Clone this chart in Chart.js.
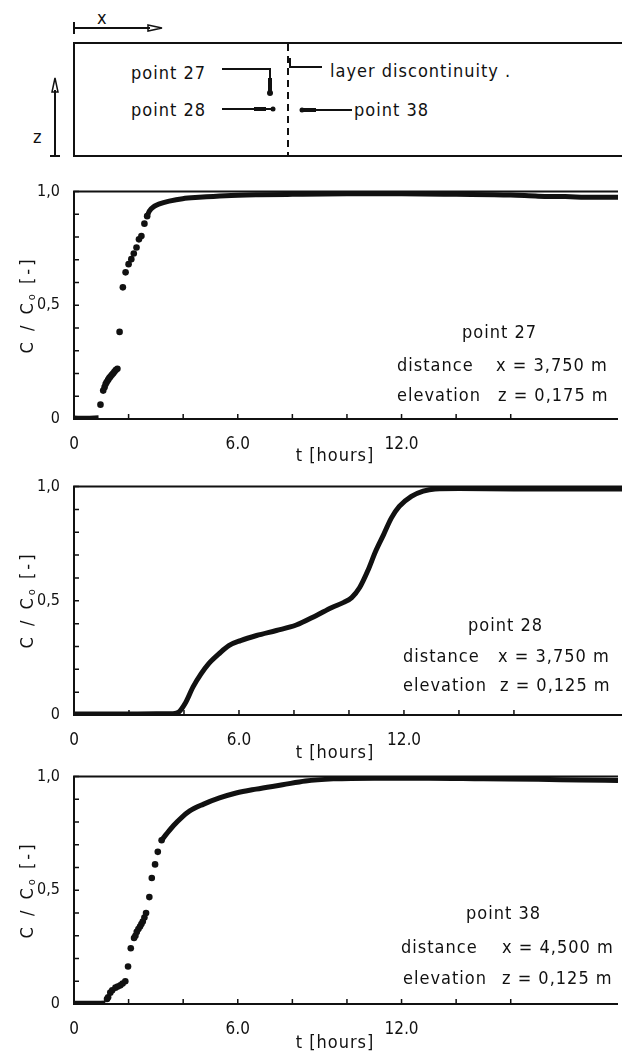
<!DOCTYPE html>
<html>
<head>
<meta charset="utf-8">
<script src="https://cdn.jsdelivr.net/npm/chart.js@4.4.1/dist/chart.umd.min.js"></script>
<style>
  html, body { margin:0; padding:0; background:#fff; }
  body { width:622px; height:1051px; position:relative; overflow:hidden;
         font-family:'DejaVu Sans Condensed','Liberation Sans Narrow','DejaVu Sans',sans-serif; color:#111; }
  .pane { position:absolute; left:0; }
  .lbl { position:absolute; font-size:18px; line-height:18px; white-space:nowrap; letter-spacing:1px; transform:translateY(-50%); }
  .mid { transform:translate(-50%,-50%); }
  .ytitle { position:absolute; left:29px; font-size:18px; line-height:18px; white-space:nowrap; letter-spacing:3px;
            transform:translate(-50%,-50%) rotate(-90deg); }
  .ytitle sub { font-size:11px; vertical-align:-2px; letter-spacing:2px; }
  svg text { font-size:18px; letter-spacing:1px; fill:#111; }
</style>
</head>
<body>

<svg class="pane" style="top:0" width="622" height="175">
  <g stroke="#111" fill="none" stroke-width="2">
    <path d="M74 22 V34 M74 28 H150"/>
    <path d="M148 25 L162 28 L148 31 Z" stroke-width="1.5"/>
    <rect x="74" y="43" width="600" height="113"/>
    <path d="M55 90 V156 M50 156 H60"/>
    <path d="M52 92 L55 78 L58 92 Z" stroke-width="1.5"/>
    <path d="M288 44 V156" stroke-dasharray="7 5"/>
    <path d="M222 69 H270 V90"/>
    <path d="M270 78 V92" stroke-width="4"/>
    <path d="M222 109 H273"/>
    <path d="M254 109 H266" stroke-width="4"/>
    <path d="M290 58 V67 H322"/>
    <path d="M302 110 H352"/>
    <path d="M302 110 H316" stroke-width="4"/>
  </g>
  <g fill="#111">
    <circle cx="270" cy="93" r="3"/>
    <circle cx="273" cy="109" r="2.5"/>
    <circle cx="302" cy="110" r="2.5"/>
  </g>
  <text x="97" y="24">x</text>
  <text x="33" y="143">z</text>
  <text x="131" y="79">point 27</text>
  <text x="131" y="116">point 28</text>
  <text x="330" y="77">layer discontinuity .</text>
  <text x="354" y="116">point 38</text>
</svg>

<canvas id="c27" class="pane" style="top:176px" width="622" height="273"></canvas>
<canvas id="c28" class="pane" style="top:471px" width="622" height="274"></canvas>
<canvas id="c38" class="pane" style="top:761px" width="622" height="273"></canvas>

<div class="ytitle" style="top:305px">C / C<sub>o</sub> [-]</div>
<div class="ytitle" style="top:600px">C / C<sub>o</sub> [-]</div>
<div class="ytitle" style="top:890px">C / C<sub>o</sub> [-]</div>

<div class="lbl" style="left:462px;top:332px">point 27</div>
<div class="lbl" style="left:397px;top:365px">distance</div>
<div class="lbl" style="left:496px;top:365px">x = 3,750 m</div>
<div class="lbl" style="left:397px;top:395px">elevation</div>
<div class="lbl" style="left:498px;top:395px">z = 0,175 m</div>
<div class="lbl mid" style="left:335px;top:455px">t [hours]</div>

<div class="lbl" style="left:468px;top:625px">point 28</div>
<div class="lbl" style="left:403px;top:656px">distance</div>
<div class="lbl" style="left:498px;top:656px">x = 3,750 m</div>
<div class="lbl" style="left:403px;top:685px">elevation</div>
<div class="lbl" style="left:500px;top:685px">z = 0,125 m</div>
<div class="lbl mid" style="left:335px;top:752px">t [hours]</div>

<div class="lbl" style="left:466px;top:913px">point 38</div>
<div class="lbl" style="left:401px;top:947px">distance</div>
<div class="lbl" style="left:502px;top:947px">x = 4,500 m</div>
<div class="lbl" style="left:403px;top:978px">elevation</div>
<div class="lbl" style="left:502px;top:978px">z = 0,125 m</div>
<div class="lbl mid" style="left:335px;top:1042px">t [hours]</div>

<script>
// axes
const tMax = 19.93
const hourTicks = [0, 6, 12]
const hourLabels = ['0', '6,0', '12,0']
const concTicks = [0, 0.5, 1]
const concLabels = ['0', '0,5', '1,0']

// point 27 : zero run, loose dots, dense tail
const p27BaseT = [0, 0.45, 0.9]
const p27BaseC = [0.004, 0.003, 0.005]
const p27DotT = [0.97, 1.07, 1.12, 1.16, 1.2, 1.25, 1.29, 1.33, 1.38, 1.43, 1.48, 1.53, 1.59, 1.67, 1.79, 1.89, 2.0, 2.1, 2.19, 2.29, 2.38, 2.47, 2.58, 2.68]
const p27DotC = [0.063, 0.125, 0.14, 0.154, 0.163, 0.172, 0.18, 0.186, 0.193, 0.2, 0.208, 0.215, 0.221, 0.383, 0.579, 0.645, 0.681, 0.703, 0.728, 0.754, 0.79, 0.805, 0.859, 0.892]
const p27TailT = [2.68, 2.76, 2.95, 3.13, 3.49, 3.98, 4.58, 5.55, 6.76, 8, 10, 12, 14, 16, 17, 18, 19, 19.93]
const p27TailC = [0.892, 0.914, 0.936, 0.946, 0.958, 0.969, 0.975, 0.982, 0.986, 0.988, 0.99, 0.99, 0.988, 0.985, 0.98, 0.978, 0.975, 0.975]

// point 28 : continuous record
const p28T = [0, 1.5, 3.0, 3.6, 3.82, 4.04, 4.33, 4.62, 4.9, 5.27, 5.63, 6.06, 6.64, 7.36, 8.08, 8.8, 9.38, 9.81, 10.1, 10.39, 10.68, 10.97, 11.26, 11.54, 11.83, 12.27, 12.7, 13.13, 14, 16, 18, 19.93]
const p28C = [0.004, 0.004, 0.005, 0.006, 0.014, 0.05, 0.123, 0.18, 0.225, 0.268, 0.304, 0.326, 0.348, 0.37, 0.394, 0.435, 0.471, 0.493, 0.514, 0.558, 0.63, 0.717, 0.79, 0.862, 0.913, 0.957, 0.98, 0.99, 0.992, 0.99, 0.99, 0.99]

// point 38
const p38BaseT = [0, 0.6, 1.15]
const p38BaseC = [0.003, 0.003, 0.004]
const p38DotT = [1.21, 1.25, 1.33, 1.4, 1.52, 1.6, 1.7, 1.78, 1.88, 1.98, 2.08, 2.2, 2.25, 2.3, 2.36, 2.42, 2.47, 2.52, 2.58, 2.64, 2.76, 2.85, 2.97, 3.07, 3.21]
const p38DotC = [0.022, 0.03, 0.05, 0.06, 0.072, 0.077, 0.082, 0.09, 0.1, 0.165, 0.245, 0.29, 0.3, 0.317, 0.33, 0.341, 0.352, 0.363, 0.38, 0.4, 0.47, 0.554, 0.614, 0.669, 0.72]
const p38TailT = [3.21, 3.39, 3.64, 3.94, 4.24, 4.73, 5.33, 5.94, 6.67, 7.64, 8.48, 9.5, 11, 13, 15, 17, 18.5, 19.93]
const p38TailC = [0.72, 0.748, 0.784, 0.82, 0.849, 0.878, 0.906, 0.928, 0.945, 0.964, 0.981, 0.99, 0.993, 0.993, 0.99, 0.988, 0.985, 0.983]

const INK = '#111'
const FONT = "'DejaVu Sans Condensed','Liberation Sans Narrow','DejaVu Sans',sans-serif"

function pts(ts, cs) {
  return ts.map((t, i) => ({x: t, y: cs[i]}))
}
function curve(ts, cs) {
  return { data: pts(ts, cs), showLine: true, borderColor: INK, borderWidth: 5,
           pointRadius: 0, cubicInterpolationMode: 'monotone' }
}
function dots(ts, cs) {
  return { data: pts(ts, cs), showLine: false, pointRadius: 3.3,
           pointBackgroundColor: INK, pointBorderWidth: 0 }
}
function pick(list, labels, v) {
  const i = list.findIndex(x => Math.abs(x - v) < 1e-6)
  return i < 0 ? '' : labels[i]
}

// frame + inward ticks
const frame = {
  id: 'frame',
  beforeDatasetsDraw(chart) {
    const {ctx, chartArea: a, scales: {x, y}} = chart
    ctx.save()
    ctx.strokeStyle = INK
    ctx.lineWidth = 2
    ctx.beginPath()
    ctx.moveTo(a.right, a.top); ctx.lineTo(a.left, a.top)
    ctx.lineTo(a.left, a.bottom); ctx.lineTo(a.right, a.bottom)
    ctx.stroke()
    ctx.lineWidth = 1.5
    ctx.beginPath()
    y.ticks.forEach(t => {
      const py = y.getPixelForValue(t.value)
      ctx.moveTo(a.left, py); ctx.lineTo(a.left + 5, py)
    })
    x.ticks.forEach(t => {
      const px = x.getPixelForValue(t.value)
      ctx.moveTo(px, a.bottom); ctx.lineTo(px, a.bottom - 5)
    })
    ctx.stroke()
    ctx.restore()
  }
}

function makePanel(id, datasets) {
  return new Chart(document.getElementById(id), {
    type: 'scatter',
    data: { datasets: datasets },
    options: {
      responsive: false,
      animation: false,
      layout: { padding: { top: 14, left: 0, right: 0, bottom: 0 } },
      plugins: { legend: { display: false }, tooltip: { enabled: false } },
      scales: {
        x: {
          type: 'linear', min: 0, max: tMax,
          border: { display: false }, grid: { display: false },
          ticks: { stepSize: 2, autoSkip: false, maxRotation: 0, padding: 7, color: INK,
                   font: { family: FONT, size: 17 },
                   callback: v => pick(hourTicks, hourLabels, v) },
          afterBuildTicks: s => { s.ticks = s.ticks.filter(t => t.value % 2 === 0 && t.value < tMax) },
          afterFit: s => { s.height = 30 }
        },
        y: {
          min: 0, max: 1,
          border: { display: false }, grid: { display: false },
          ticks: { stepSize: 0.1, autoSkip: false, padding: 6, color: INK,
                   font: { family: FONT, size: 16 },
                   callback: v => pick(concTicks, concLabels, v) },
          afterFit: s => { s.width = 74 }
        }
      }
    },
    plugins: [frame]
  })
}

makePanel('c27', [curve(p27BaseT, p27BaseC), dots(p27DotT, p27DotC), curve(p27TailT, p27TailC)])
makePanel('c28', [curve(p28T, p28C)])
makePanel('c38', [curve(p38BaseT, p38BaseC), dots(p38DotT, p38DotC), curve(p38TailT, p38TailC)])
</script>
</body>
</html>
